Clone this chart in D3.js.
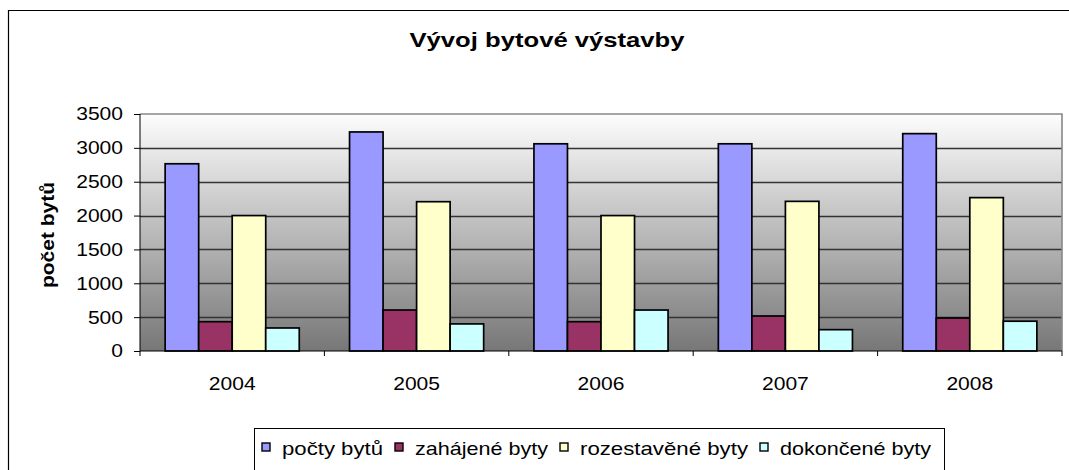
<!DOCTYPE html>
<html><head><meta charset="utf-8">
<script src="https://cdn.jsdelivr.net/npm/d3@7/dist/d3.min.js"></script>
<style>body{margin:0;background:#fff;}svg{display:block;font-family:"Liberation Sans",Arial,sans-serif;}</style>
</head><body><svg id="c" width="1069" height="470"></svg>
<script>
const years = ["2004","2005","2006","2007","2008"];
const seriesNames = ["počty bytů","zahájené byty","rozestavěné byty","dokončené byty"];
const pocty = [2765, 3235, 3060, 3060, 3210];
const zahajene = [433, 605, 433, 517, 487];
const rozestavene = [2000, 2205, 2000, 2210, 2265];
const dokoncene = [340, 400, 605, 315, 440];
const yTicks = [0,500,1000,1500,2000,2500,3000,3500];
const colors = ["#9999FF","#993366","#FFFFCC","#CCFFFF"];
const seriesValues = [pocty, zahajene, rozestavene, dokoncene];

const svg = d3.select("#c");
const L = 140, R = 1062, T = 114, B = 351;
const DIGIT_W = 11.7; // horizontally stretched text in the original

// outer chart border
svg.append("path").attr("d","M1069,10.5H8.5V470").attr("fill","none").attr("stroke","#000").attr("stroke-width",1.2);

const defs = svg.append("defs");
const g = defs.append("linearGradient").attr("id","bg").attr("x1",0).attr("y1",0).attr("x2",0).attr("y2",1);
g.append("stop").attr("offset","0%").attr("stop-color","#fdfdfd");
g.append("stop").attr("offset","100%").attr("stop-color","#777");

const x0 = d3.scaleBand().domain(years).range([L,R]).paddingInner(0).paddingOuter(0);
const x1 = d3.scaleBand().domain(seriesNames).range([0,x0.bandwidth()]).paddingInner(0).paddingOuter(0.75);
const y = d3.scaleLinear().domain([0,3500]).range([B,T]);

svg.append("rect").attr("x",L).attr("y",T).attr("width",R-L).attr("height",B-T).attr("fill","url(#bg)");

// gridlines
svg.append("g").selectAll("line").data(yTicks.filter(d=>d>0 && d<3500)).join("line")
  .attr("x1",L).attr("x2",R).attr("y1",d=>Math.round(y(d))+0.5).attr("y2",d=>Math.round(y(d))+0.5)
  .attr("stroke","#333").attr("stroke-width",1.3);
// plot border top/right
svg.append("path").attr("d",`M${L},${T}H${R}V${B}`).attr("fill","none").attr("stroke","#888").attr("stroke-width",1.6);

// bars
years.forEach((yr,i)=>{
  seriesNames.forEach((s,j)=>{
    const v = seriesValues[j][i];
    svg.append("rect")
      .attr("x", x0(yr)+x1(s)).attr("y", y(v))
      .attr("width", x1.bandwidth()).attr("height", B - y(v))
      .attr("fill", colors[j]).attr("stroke","#000").attr("stroke-width",1.7);
  });
});

// axes
const yAxis = d3.axisLeft(y).tickValues(yTicks).tickSize(6).tickPadding(11).tickFormat(d3.format("d"));
const ya = svg.append("g").attr("transform",`translate(${L},0)`).call(yAxis);
ya.select(".domain").attr("stroke","#000").attr("d",`M0,${T}V${B}`);
ya.selectAll("text").attr("font-size",18.5).attr("fill","#000").attr("font-family","Liberation Sans, Arial, sans-serif")
  .attr("textLength",d=>String(d).length*DIGIT_W).attr("lengthAdjust","spacingAndGlyphs");

const xAxis = d3.axisBottom(x0).tickSize(0).tickPadding(26);
const xa = svg.append("g").attr("transform",`translate(0,${B})`).call(xAxis);
xa.select(".domain").attr("d",`M${L},0H${R}`).attr("stroke","#000");
xa.selectAll("text").attr("font-size",18.5).attr("fill","#000").attr("font-family","Liberation Sans, Arial, sans-serif")
  .attr("textLength",d=>String(d).length*DIGIT_W).attr("lengthAdjust","spacingAndGlyphs");
// category boundary ticks
svg.append("g").selectAll("line").data(d3.range(years.length+1)).join("line")
  .attr("x1",d=>L + d*x0.step()).attr("x2",d=>L + d*x0.step())
  .attr("y1",B).attr("y2",B+5).attr("stroke","#000");

// title
svg.append("text").attr("x",547).attr("y",47).attr("text-anchor","middle")
  .attr("font-size",21).attr("font-weight","bold").attr("textLength",275).attr("lengthAdjust","spacingAndGlyphs")
  .text("Vývoj bytové výstavby");

// y label
svg.append("text").attr("transform","translate(54,235) rotate(-90)").attr("text-anchor","middle")
  .attr("font-size",19).attr("font-weight","bold").attr("textLength",106).attr("lengthAdjust","spacingAndGlyphs")
  .text("počet bytů");

// legend
svg.append("rect").attr("x",254.5).attr("y",428.5).attr("width",690).attr("height",42)
  .attr("fill","#fff").attr("stroke","#000").attr("stroke-width",1);
const legendW = [101, 133, 168, 151];
const lg = svg.append("g");
let lx = 262;
seriesNames.forEach((s,j)=>{
  lg.append("rect").attr("x",lx).attr("y",443).attr("width",8).attr("height",8)
    .attr("fill",colors[j]).attr("stroke","#000").attr("stroke-width",1.4);
  lg.append("text").attr("x",lx+20).attr("y",455).attr("font-size",18.5)
    .attr("textLength",legendW[j]).attr("lengthAdjust","spacingAndGlyphs").text(s);
  lx += 20 + legendW[j] + 12;
});
</script></body></html>
